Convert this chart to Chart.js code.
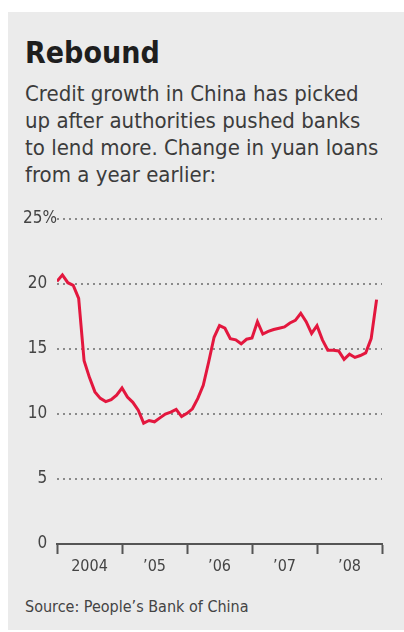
<!DOCTYPE html>
<html>
<head>
<meta charset="utf-8">
<script src="https://cdn.jsdelivr.net/npm/chart.js@4"></script>
<style>
  body { margin: 0; background: #fff; width: 404px; height: 632px; overflow: hidden; }
  .panel { position: absolute; left: 8px; top: 12px; width: 396px; height: 618px; background: #ebebeb; }
  .txt { position: absolute; left: 25px; font-family: 'DejaVu Sans Condensed', 'DejaVu Sans', sans-serif; white-space: nowrap; }
  #title { top: 35px; font-size: 30px; line-height: 36px; font-weight: bold; color: #1e1e1e; }
  #sub { top: 80px; font-size: 22px; line-height: 27px; color: #3c3c3c; }
  #source { top: 597px; font-size: 16px; line-height: 20px; color: #444; }
  #wrap { position: absolute; left: 0; top: 200px; width: 404px; height: 390px; }
</style>
</head>
<body>
<div class="panel"></div>
<div class="txt" id="title">Rebound</div>
<div class="txt" id="sub">Credit growth in China has picked<br>up after authorities pushed banks<br>to lend more. Change in yuan loans<br>from a year earlier:</div>
<div id="wrap"><canvas id="loanChart"></canvas></div>
<div class="txt" id="source">Source: People’s Bank of China</div>
<script>
// monthly, Jan 2004 .. Dec 2008, % change from a year earlier
const loanGrowth = [
  20.2, 20.7, 20.1, 19.9, 18.9, 14.1, 12.8, 11.7, 11.2, 10.95, 11.1, 11.45,
  12.0, 11.3, 10.9, 10.3, 9.3, 9.5, 9.4, 9.7, 10.0, 10.15, 10.35, 9.8,
  10.05, 10.4, 11.2, 12.2, 14.0, 15.9, 16.8, 16.6, 15.8, 15.7, 15.4, 15.75,
  15.85, 17.1, 16.15, 16.35, 16.5, 16.6, 16.7, 17.0, 17.2, 17.75, 17.1, 16.2,
  16.8, 15.7, 14.9, 14.9, 14.85, 14.2, 14.6, 14.35, 14.5, 14.7, 15.8, 18.8
];
const yearLabels = ['2004', '’05', '’06', '’07', '’08'];
const yTicks = [0, 5, 10, 15, 20, 25];

const font = "'DejaVu Sans Condensed', 'DejaVu Sans', sans-serif";
const points = loanGrowth.map((v, i) => ({ x: i, y: v }));

const ctx = document.getElementById('loanChart');
new Chart(ctx, {
  type: 'line',
  data: {
    datasets: [{
      data: points,
      borderColor: '#e3173e',
      borderWidth: 3,
      pointRadius: 0,
      tension: 0,
    }],
  },
  options: {
    responsive: true,
    maintainAspectRatio: false,
    animation: false,
    events: [],
    layout: { padding: { left: 0, right: 22, top: 19, bottom: 0 } },
    plugins: { legend: { display: false }, tooltip: { enabled: false } },
    scales: {
      x: {
        type: 'linear',
        min: 0,
        max: 60,
        afterFit: (s) => { s.height = 46; },
        afterBuildTicks: (s) => {
          const t = [];
          for (let v = 0; v <= 60; v += 6) t.push({ value: v });
          s.ticks = t;
        },
        ticks: {
          autoSkip: false,
          maxRotation: 0,
          padding: 3,
          color: '#444',
          font: { family: font, size: 16 },
          callback: (v) => (v % 12 === 6 ? yearLabels[(v - 6) / 12] : ''),
        },
        grid: {
          drawOnChartArea: false,
          drawTicks: true,
          tickLength: 10,
          tickWidth: 2,
          tickColor: (c) => (c.tick && c.tick.value % 12 === 0 ? '#555' : 'rgba(0,0,0,0)'),
        },
        border: { display: true, color: '#555', width: 2 },
      },
      y: {
        min: 0,
        max: 25,
        afterFit: (s) => { s.width = 57; },
        afterBuildTicks: (s) => { s.ticks = yTicks.map((v) => ({ value: v })); },
        ticks: {
          padding: 0,
          color: '#444',
          font: { family: font, size: 17 },
          callback: (v) => (v === 25 ? '25%' : v + '\u2007'),
        },
        grid: {
          drawTicks: false,
          lineWidth: 2,
          color: (c) => (c.tick && c.tick.value === 0 ? 'rgba(0,0,0,0)' : '#8a8a8a'),
        },
        border: { display: false, dash: [2, 4] },
      },
    },
  },
});
</script>
</body>
</html>
